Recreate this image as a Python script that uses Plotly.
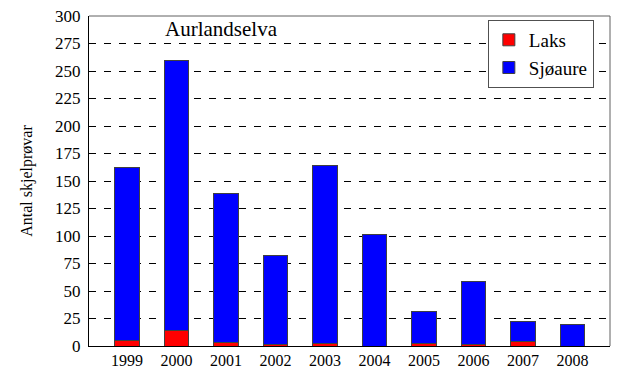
import plotly.graph_objects as go

years = ["1999", "2000", "2001", "2002", "2003", "2004", "2005", "2006", "2007", "2008"]
laks = [5, 14, 3, 1, 2, 0, 2, 1, 4, 0]
totals = [162, 260, 139, 82, 164, 101, 31, 59, 22, 20]
sjoaure = [t - l for t, l in zip(totals, laks)]
y_ticks = list(range(0, 301, 25))

FONT = "Liberation Serif"
EDGE = "#404040"

fig = go.Figure()
fig.add_trace(go.Bar(x=years, y=laks, name="Laks", marker=dict(color="#ff0000", line=dict(color=EDGE, width=1)), width=0.49))
fig.add_trace(go.Bar(x=years, y=sjoaure, name="Sjøaure", marker=dict(color="#0000ff", line=dict(color=EDGE, width=1)), width=0.49))

fig.update_layout(
    width=617, height=376,
    margin=dict(l=89, r=7, t=13, b=29),
    barmode="stack",
    plot_bgcolor="white", paper_bgcolor="white",
    font=dict(family=FONT, color="black", size=16),
    showlegend=True,
    legend=dict(
        x=0.969, y=0.988, xanchor="right", yanchor="top",
        bgcolor="white", bordercolor="#505050", borderwidth=1,
        font=dict(size=19, family=FONT), traceorder="normal",
        itemwidth=30,
    ),
    xaxis=dict(
        type="category", range=[-0.77, 9.76],
        showline=True, linecolor="black", linewidth=1,
        showgrid=False, ticks="", tickfont=dict(size=16, family=FONT),
    ),
    yaxis=dict(
        range=[0, 300], tickvals=y_ticks,
        showline=True, linecolor="black", linewidth=1,
        showgrid=True, gridcolor="black", gridwidth=1, griddash="7px,8px",
        zeroline=False, ticks="", ticklabelstandoff=4,
        tickfont=dict(size=17, family=FONT),
        title=dict(text="Antal skjelprøvar", font=dict(size=16, family=FONT), standoff=18),
    ),
    annotations=[dict(
        text="Aurlandselva", x=(163 - 89) / (610 - 89), y=275, xref="paper", yref="y",
        xanchor="left", yanchor="bottom", showarrow=False,
        font=dict(size=21, family=FONT),
    )],
    shapes=[
        dict(type="line", xref="paper", yref="paper", x0=0, x1=1, y0=1, y1=1, line=dict(color="#606060", width=1)),
        dict(type="line", xref="paper", yref="paper", x0=1, x1=1, y0=0, y1=1, line=dict(color="#606060", width=1)),
    ],
)

fig.write_html("out.html")
